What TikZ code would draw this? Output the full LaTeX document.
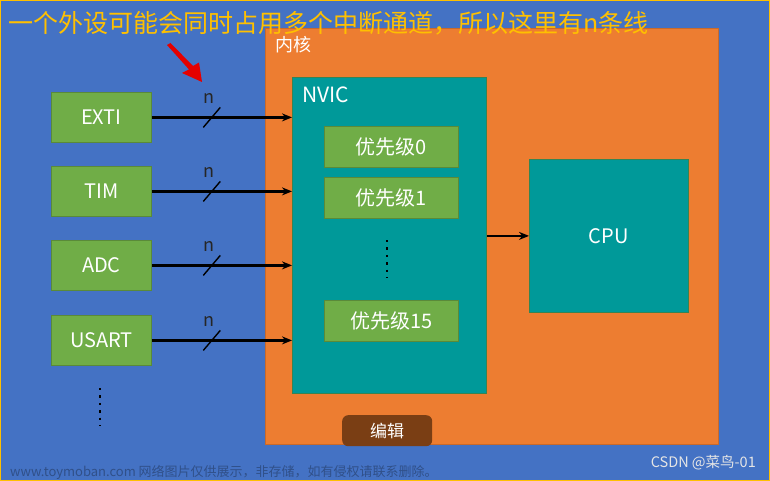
\documentclass[tikz,border=0pt]{standalone}
\usepackage{fontspec}
\setmainfont{Noto Sans CJK SC}
\usetikzlibrary{arrows.meta}
\definecolor{bgblue}{HTML}{4472C4}
\definecolor{coreor}{HTML}{ED7D31}
\definecolor{teal2}{HTML}{009999}
\definecolor{grn}{HTML}{70AD47}
\definecolor{gold}{HTML}{FFC000}
\definecolor{editbr}{HTML}{7A3E14}
\tikzset{
  greenbox/.style={draw=grn!80!black, line width=0.8pt, fill=grn, text=white, inner sep=0pt, font=\fontsize{20}{20}\selectfont},
  tealbox/.style={draw=grn!60!teal2!80!black, line width=0.8pt, fill=teal2, inner sep=0pt},
  sig/.style={line width=2.3pt, -{Stealth[length=10pt,width=8pt]}},
  slashmark/.style={line width=1.4pt},
  nlab/.style={text=black!85, font=\fontsize{18}{18}\selectfont, inner sep=0pt},
  dotsv/.style={line width=2.4pt, dash pattern=on 2.4pt off 5pt, line cap=butt}
}
\begin{document}
\begin{tikzpicture}[x=1pt,y=-1pt]
\useasboundingbox (0,0) rectangle (770,481);
\fill[bgblue] (0,0) rectangle (770,481);
\draw[gold, line width=1.5pt] (0,0) rectangle (770,481);
% core
\node[draw=coreor!85!black, line width=0.8pt, fill=coreor, minimum width=453pt, minimum height=416pt, anchor=north west, inner sep=0pt] (core) at (265,28) {};
\node[text=white, font=\fontsize{18}{18}\selectfont, anchor=west, inner sep=0pt] (corelab) at (275,45) {内核};
% NVIC
\node[tealbox, minimum width=194pt, minimum height=316pt, anchor=north west] (nvic) at (292,77) {};
\node[text=white, font=\fontsize{21}{21}\selectfont, anchor=west, inner sep=0pt] (nviclab) at (302,95) {NVIC};
\node[greenbox, minimum width=134pt, minimum height=41pt, anchor=north west] (p0) at (324,126) {优先级0};
\node[greenbox, minimum width=134pt, minimum height=41pt, anchor=north west] (p1) at (324,177) {优先级1};
\node[greenbox, minimum width=134pt, minimum height=41pt, anchor=north west] (p15) at (324,300) {优先级15};
\coordinate (pd1) at (387,240);
\coordinate (pd2) at (387,278);
\draw[dotsv, black] (pd1) -- (pd2);
% CPU
\node[tealbox, minimum width=159pt, minimum height=153pt, anchor=north west, text=white, font=\fontsize{20}{20}\selectfont] (cpu) at (529,159) {CPU};
\draw[sig] (nvic.east |- cpu.west) -- (cpu.west);
% peripherals
\node[greenbox, minimum width=100pt, minimum height=50pt, anchor=north west] (exti) at (51,92) {EXTI};
\node[greenbox, minimum width=100pt, minimum height=50pt, anchor=north west] (tim) at (51,166) {TIM};
\node[greenbox, minimum width=100pt, minimum height=50pt, anchor=north west] (adc) at (51,240) {ADC};
\node[greenbox, minimum width=100pt, minimum height=50pt, anchor=north west] (usart) at (51,315) {USART};
\foreach \b in {exti,tim,adc,usart}{
  \draw[sig] (\b.east) -- (\b.east -| nvic.west);
  \coordinate (m\b) at ([xshift=60pt]\b.east);
  \draw[slashmark] ([xshift=-8.5pt,yshift=-10pt]m\b) -- ([xshift=8.5pt,yshift=10pt]m\b);
  \node[nlab] (n\b) at ([xshift=-3pt,yshift=19pt]m\b) {n};
}
\coordinate (ld1) at (100,388);
\coordinate (ld2) at (100,426);
\draw[dotsv, black] (ld1) -- (ld2);
% title
\node[text=gold, font=\fontsize{25}{25}\selectfont, anchor=west, inner sep=0pt] (title) at (8,23) {一个外设可能会同时占用多个中断通道，所以这里有n条线};
% red arrow
\fill[red!90!black] (167,45) -- (170.5,43) -- (193,66) -- (199,62.5) -- (202,82) -- (182,73) -- (189,69.5) -- cycle;
% edit button
\node[fill=editbr, rounded corners=6pt, minimum width=90pt, minimum height=31pt, anchor=north west, text=white, font=\fontsize{17}{17}\selectfont, inner sep=0pt] (edit) at (342,415) {编辑};
% watermarks
\node[text=black!10, font=\fontsize{14.5}{14.5}\selectfont, anchor=east, inner sep=0pt] (csdn) at (756,463) {CSDN @菜鸟-01};
\node[text=bgblue!70!black, font=\fontsize{13}{13}\selectfont, anchor=west, inner sep=0pt] (wm) at (10,472) {www.toymoban.com 网络图片仅供展示，非存储，如有侵权请联系删除。};
\end{tikzpicture}
\end{document}
